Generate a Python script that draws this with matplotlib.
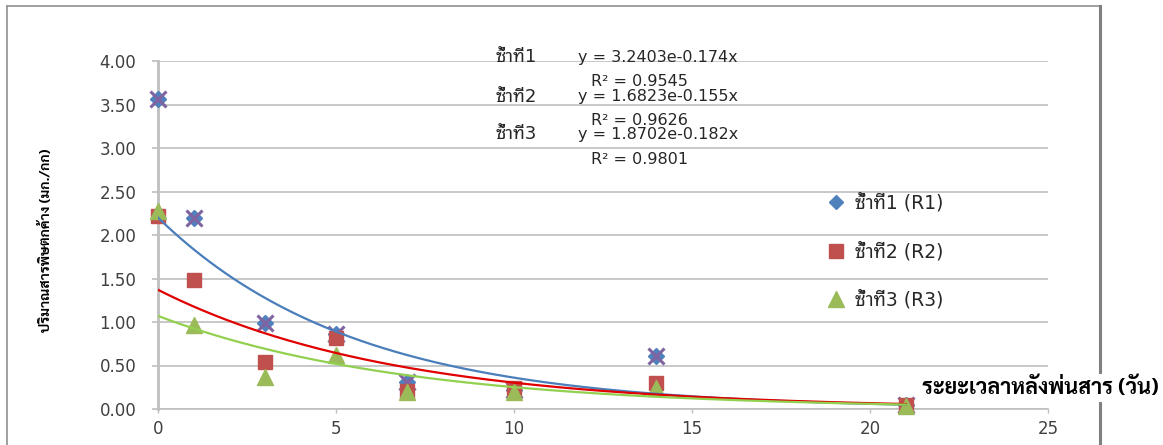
import numpy as np
import matplotlib
matplotlib.use('Agg')
import matplotlib.pyplot as plt
from matplotlib.lines import Line2D

plt.rcParams['font.family'] = ['DejaVu Sans', 'Noto Sans Thai Looped']

# days after spraying
days = [0, 1, 3, 5, 7, 10, 14, 21]

# residue (mg/kg) per replicate
r1 = [3.56, 2.19, 0.99, 0.86, 0.31, 0.22, 0.61, 0.05]
r2 = [2.22, 1.48, 0.54, 0.82, 0.21, 0.24, 0.30, 0.05]
r3 = [2.28, 0.97, 0.37, 0.62, 0.20, 0.20, 0.24, 0.04]

series_labels = ['ซ้ำที่1 (R1)', 'ซ้ำที่2 (R2)', 'ซ้ำที่3 (R3)']

# exponential trend lines as drawn: y = a * exp(-k x)
trend_a = [2.20, 1.37, 1.07]
trend_k = [0.181, 0.151, 0.145]
trend_end = 21

eq_labels = ['ซ้ำที่1', 'ซ้ำที่2', 'ซ้ำที่3']
eq_texts = ['y = 3.2403e-0.174x', 'y = 1.6823e-0.155x', 'y = 1.8702e-0.182x']
r2_texts = ['R² = 0.9545', 'R² = 0.9626', 'R² = 0.9801']

W, H = 1163, 445
fig = plt.figure(figsize=(W / 100, H / 100), dpi=100)
ax = fig.add_axes([158 / W, 1 - 409 / H, 890 / W, 348 / H])

blue, red, green, purple = '#4F81BD', '#C0504D', '#9BBB59', '#8064A2'

ax.plot(days, r1, 'D', color=blue, ms=8, clip_on=False, zorder=3)
ax.plot(days, r1, 'x', color=purple, ms=11, mew=2.2, clip_on=False, zorder=3)
ax.plot(days, r2, 's', color=red, ms=10, clip_on=False, zorder=4)
ax.plot(days, r3, '^', color=green, ms=11, clip_on=False, zorder=5)

xs = np.linspace(0, trend_end, 200)
for a, k, c in zip(trend_a, trend_k, ['#4A7EBB', '#E00000', '#92D050']):
    ax.plot(xs, a * np.exp(-k * xs), color=c, lw=1.6, zorder=6)

ax.set_xlim(0, 25)
ax.set_ylim(0, 4)
ax.set_xticks(range(0, 26, 5))
ax.set_yticks(np.arange(0, 4.01, 0.5))
ax.set_yticklabels([f'{v:.2f}' for v in np.arange(0, 4.01, 0.5)])
ax.grid(axis='y', color='#BFBFBF', lw=1.2)
ax.set_axisbelow(True)
for s in ['top', 'right']:
    ax.spines[s].set_visible(False)
ax.spines['left'].set_color('#BFBFBF')
ax.spines['left'].set_linewidth(2)
ax.spines['bottom'].set_color('#BFBFBF')
ax.spines['bottom'].set_linewidth(1.2)
ax.tick_params(axis='y', length=4.5, color='#BFBFBF', width=1.2, pad=11, labelsize=12, labelcolor='#404040')
ax.tick_params(axis='x', length=3, color='#BFBFBF', width=1, pad=5, labelsize=12, labelcolor='#404040')

# equations
eq_y = [1.011, 0.897, 0.790]
r2_y = [0.940, 0.830, 0.718]
for lab, eq, r2t, ye, yr in zip(eq_labels, eq_texts, r2_texts, eq_y, r2_y):
    ax.text(0.379, ye, lab, transform=ax.transAxes, ha='left', va='center', fontsize=13, color='#262626')
    ax.text(0.472, ye, eq, transform=ax.transAxes, ha='left', va='center', fontsize=11.5, color='#262626')
    ax.text(0.541, yr, r2t, transform=ax.transAxes, ha='center', va='center', fontsize=11.5, color='#262626')

handles = [
    Line2D([], [], ls='none', marker='D', color=blue, ms=7),
    Line2D([], [], ls='none', marker='s', color=red, ms=10),
    Line2D([], [], ls='none', marker='^', color=green, ms=11),
]
fig.legend(handles, series_labels, loc='upper left', bbox_to_anchor=(810 / W, 1 - 176 / H),
           frameon=False, fontsize=13.5, labelspacing=1.55, handlelength=1.0, handletextpad=0.5,
           labelcolor='#262626')

fig.text(46 / W, 1 - 240 / H, 'ปริมาณสารพิษตกค้าง (มก./กก)', rotation=90, ha='center', va='center',
         fontsize=10, fontweight='bold', family=['Sarabun', 'DejaVu Sans'])
fig.text(1040 / W, 1 - 388 / H, 'ระยะเวลาหลังพ่นสาร (วัน)', ha='center', va='center', fontsize=15.5,
         fontweight='bold', family=['Sarabun', 'DejaVu Sans'],
         bbox=dict(facecolor='white', edgecolor='none', pad=2), zorder=10)

# chart frame
fig.add_artist(Line2D([7 / W, 7 / W], [-0.1, 1 - 6 / H], transform=fig.transFigure, color='#909090', lw=1.2, zorder=1))
fig.add_artist(Line2D([7 / W, 1100 / W], [1 - 6 / H, 1 - 6 / H], transform=fig.transFigure, color='#909090', lw=1.2, zorder=1))
fig.add_artist(Line2D([1100 / W, 1100 / W], [-0.1, 1 - 6 / H], transform=fig.transFigure, color='#808080', lw=2.2, zorder=1))

fig.savefig('out.png')
